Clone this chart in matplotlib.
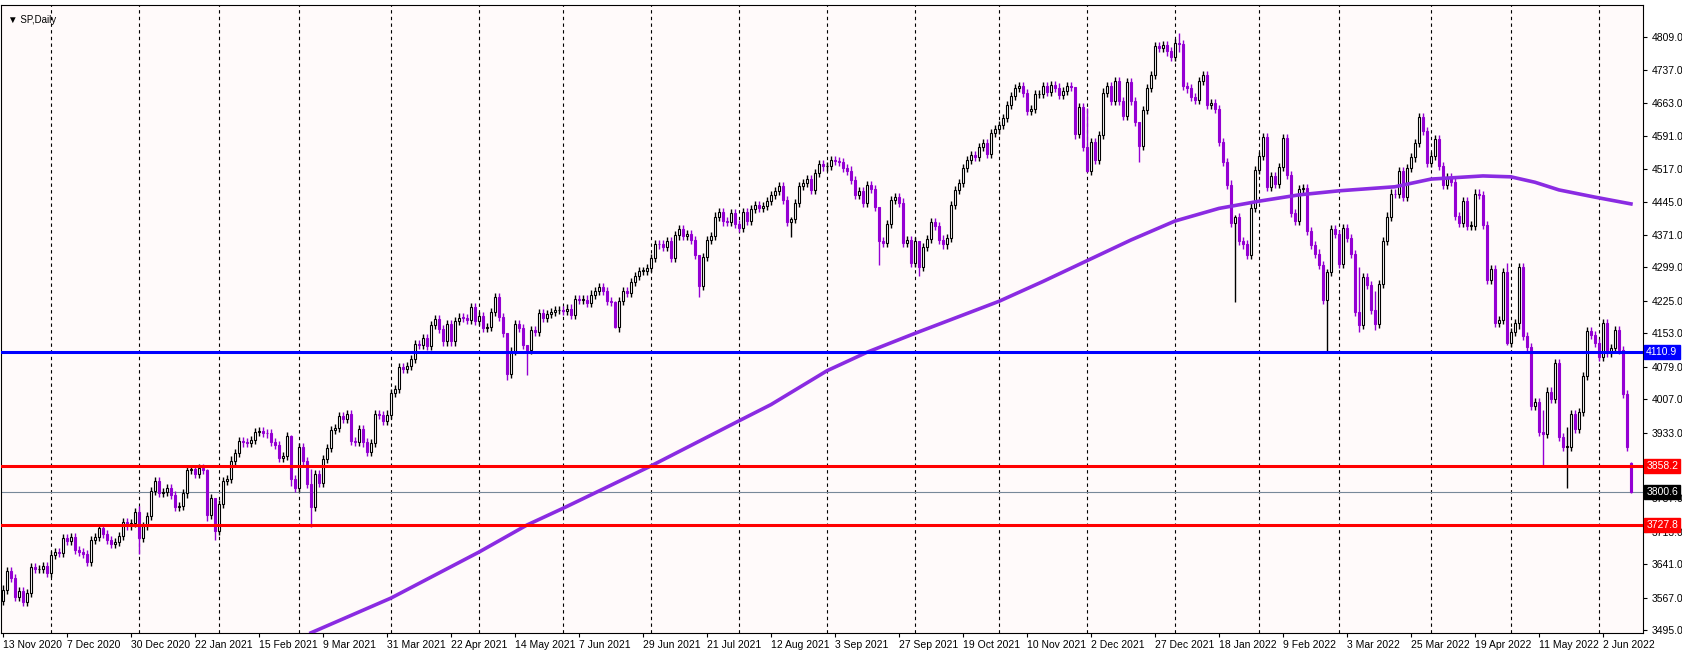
import pandas as pd
import matplotlib
matplotlib.use("Agg")
import matplotlib.pyplot as plt
import matplotlib.transforms as mtransforms

plt.rcParams['font.family'] = ['Liberation Sans', 'DejaVu Sans']

# daily closes, one row per week (Mon..Fri), 13 Nov 2020 .. 13 Jun 2022
closes = [
    3585,
    3627, 3610, 3568, 3582, 3558,
    3578, 3635, 3630, 3630, 3638,
    3622, 3662, 3669, 3666, 3699,
    3692, 3702, 3673, 3668, 3663,
    3647, 3695, 3701, 3722, 3709,
    3694, 3687, 3690, 3703,
    3735, 3727, 3732, 3756,
    3700, 3726, 3748, 3803, 3825,
    3799, 3801, 3809, 3795, 3768,
    3770, 3798, 3851, 3853, 3841,
    3855, 3849, 3750, 3787, 3714,
    3774, 3826, 3830, 3871, 3887,
    3915, 3911, 3910, 3916, 3934,
    3936, 3932, 3931, 3913, 3906,
    3876, 3881, 3925, 3829, 3811,
    3901, 3870, 3820, 3768, 3842,
    3821, 3875, 3899, 3939, 3943,
    3969, 3963, 3974, 3915, 3913,
    3940, 3911, 3889, 3910, 3975,
    3971, 3959, 3973, 4020, 4030,
    4078, 4074, 4080, 4097, 4129,
    4128, 4142, 4125, 4171, 4185,
    4163, 4135, 4173, 4135, 4180,
    4188, 4187, 4183, 4211, 4181,
    4192, 4165, 4168, 4201, 4233,
    4189, 4153, 4063, 4113, 4174,
    4164, 4128, 4116, 4160, 4156,
    4197, 4188, 4196, 4201, 4204,
    4205, 4202, 4208, 4193, 4230,
    4227, 4228, 4220, 4239, 4247,
    4255, 4247, 4224, 4222, 4166,
    4224, 4246, 4242, 4267, 4281,
    4291, 4291, 4298, 4320, 4352,
    4350, 4344, 4358, 4320, 4370,
    4385, 4369, 4374, 4360, 4327,
    4259, 4323, 4359, 4368, 4412,
    4422, 4401, 4400, 4419, 4395,
    4387, 4423, 4403, 4429, 4437,
    4432, 4436, 4447, 4460, 4468,
    4479, 4449, 4400, 4406, 4442,
    4480, 4486, 4496, 4470, 4509,
    4529, 4523, 4524, 4537, 4535,
    4532, 4520, 4514, 4493, 4459,
    4469, 4443, 4481, 4473, 4433,
    4358, 4354, 4395, 4449, 4455,
    4443, 4353, 4359, 4308, 4357,
    4300, 4345, 4363, 4399, 4391,
    4361, 4350, 4364, 4438, 4471,
    4486, 4520, 4537, 4549, 4545,
    4567, 4575, 4551, 4597, 4605,
    4614, 4631, 4660, 4680, 4697,
    4702, 4685, 4647, 4650, 4683,
    4683, 4701, 4689, 4704, 4698,
    4682, 4691, 4701, 4700, 4595,
    4655, 4567, 4513, 4577, 4538,
    4592, 4687, 4701, 4668, 4712,
    4669, 4634, 4710, 4669, 4621,
    4568, 4649, 4697, 4726,
    4791, 4786, 4793, 4778, 4766,
    4797, 4794, 4701, 4696, 4677,
    4670, 4713, 4726, 4660, 4663,
    4650, 4577, 4533, 4483, 4398,
    4410, 4357, 4350, 4326, 4432,
    4516, 4546, 4589, 4477, 4501,
    4484, 4522, 4587, 4504, 4419,
    4402, 4472, 4475, 4380, 4349,
    4330, 4305, 4226, 4289, 4385,
    4374, 4306, 4387, 4364, 4329,
    4201, 4171, 4278, 4260, 4204,
    4173, 4262, 4358, 4412, 4463,
    4461, 4512, 4456, 4520, 4543,
    4575, 4632, 4602, 4530, 4546,
    4583, 4525, 4481, 4500, 4488,
    4413, 4397, 4447, 4392,
    4392, 4463, 4460, 4394, 4272,
    4296, 4175, 4183, 4288, 4132,
    4155, 4175, 4300, 4147, 4123,
    3991, 4001, 3935, 3930, 4024,
    4008, 4088, 3923, 3901, 3901,
    3974, 3941, 3979, 4058, 4158,
    4150, 4132, 4101, 4176, 4109,
    4121, 4161, 4116, 4018, 3901,
    3800.6,
]
first_open = 3560
open_overrides = {"2022-06-13": 3865}
# long wicks: date -> (high, low)
wick_overrides = {
    "2021-01-04": (3770, 3663), "2021-01-27": (3852, 3737), "2021-01-29": (3785, 3695),
    "2021-02-25": (3928, 3815), "2021-03-04": (3852, 3723), "2021-05-12": (4135, 4050),
    "2021-05-19": (4125, 4060), "2021-06-18": (4225, 4165), "2021-07-19": (4325, 4233),
    "2021-08-19": (4410, 4367), "2021-09-20": (4425, 4305), "2021-10-04": (4357, 4280),
    "2021-11-26": (4700, 4585), "2021-12-01": (4652, 4510), "2021-12-20": (4620, 4532),
    "2022-01-04": (4818, 4776), "2022-01-24": (4415, 4222), "2022-02-24": (4295, 4114),
    "2022-03-08": (4300, 4157), "2022-03-14": (4247, 4161), "2022-04-29": (4309, 4128),
    "2022-05-04": (4308, 4162), "2022-05-12": (3982, 3858), "2022-05-20": (3945, 3810),
    "2022-06-13": (3868, 3800),
}

excluded_days = ["2020-12-25", "2021-01-01", "2021-12-24", "2022-04-15"]

# 200-day moving average at a few candles
ma_idx = [77, 97, 119, 131, 140, 162, 184, 192, 206, 216, 228, 249, 260, 271, 282,
          293, 304, 314, 324, 334, 348, 357, 370, 377, 383, 389, 398, 407]
ma_val = [3489, 3566, 3668, 3728, 3765, 3859, 3959, 3995, 4070, 4111, 4153, 4224,
          4268, 4314, 4360, 4402, 4430, 4446, 4460, 4469, 4478, 4495, 4502, 4500,
          4488, 4471, 4455, 4440]

levels = [(4110.9, "#0000FF"), (3858.2, "#FF0000"), (3727.8, "#FF0000")]
last_price = 3800.6
price_ticks = [4809.0, 4737.0, 4663.0, 4591.0, 4517.0, 4445.0, 4371.0, 4299.0,
               4225.0, 4153.0, 4079.0, 4007.0, 3933.0, 3787.0, 3713.0, 3641.0,
               3567.0, 3495.0]

dates = pd.bdate_range("2020-11-13", "2022-06-13")
dates = dates[~dates.isin(pd.to_datetime(excluded_days))]
n = min(len(dates), len(closes))
dates = dates[:n]
closes = closes[:n]
keys = [d.strftime("%Y-%m-%d") for d in dates]

down_col = "#9400D3"

fig = plt.figure(figsize=(16.83, 6.54), dpi=100, facecolor="white")
ax = fig.add_axes([0.0006, 0.032, 0.9756, 0.960])
ax.set_facecolor("#FFFAFA")

# monthly grid lines
month_starts = [i for i in range(1, n) if dates[i].month != dates[i - 1].month]
for i in month_starts:
    ax.axvline(i, color="black", lw=0.8, ls=(0, (3, 3)), zorder=1)

for i, c in enumerate(closes):
    o = open_overrides.get(keys[i], first_open if i == 0 else closes[i - 1])
    hi, lo = wick_overrides.get(keys[i], (max(o, c) + 9, min(o, c) - 9))
    up = c >= o
    col = "black" if up else down_col
    ax.vlines(i, lo, hi, color=col, lw=1, zorder=3)
    body = max(abs(c - o), 1.5)
    ax.bar(i, body, bottom=min(o, c), width=0.62,
           facecolor="white" if up else down_col,
           edgecolor=col, lw=0.8, zorder=4)

ax.plot(ma_idx, ma_val, color="#8A2BE2", lw=2.6, zorder=5)

for y, col in levels:
    ax.axhline(y, color=col, lw=2.2, zorder=6)
ax.axhline(last_price, color="#778899", lw=0.8, zorder=2)

ax.set_xlim(-0.5, 410)
ax.set_ylim(3488.4, 4880.5)

tick_pos = list(range(0, n, 16))
ax.set_xticks(tick_pos)
ax.set_xticklabels([f"{dates[i].day} {dates[i]:%b %Y}" for i in tick_pos],
                   fontsize=7.5, ha="left")
ax.tick_params(axis="x", length=3, pad=2)

ax.yaxis.tick_right()
ax.set_yticks(price_ticks)
ax.set_yticklabels([f"{p:.1f}" for p in price_ticks], fontsize=7.5)
ax.tick_params(axis="y", length=3, pad=3)

for s in ax.spines.values():
    s.set_color("black")
    s.set_linewidth(0.8)

trans = mtransforms.blended_transform_factory(ax.transAxes, ax.transData)
for y, col in levels + [(last_price, "black")]:
    ax.text(1.002, y, f"{y:.1f}", transform=trans, fontsize=7.5, color="white",
            va="center", ha="left", clip_on=False, zorder=10,
            bbox=dict(boxstyle="square,pad=0.2", facecolor=col, edgecolor=col))

ax.text(0.004, 0.985, "▼ SP,Daily", transform=ax.transAxes, fontsize=7,
        va="top", ha="left")

fig.savefig("out.png", dpi=100, facecolor="white")
